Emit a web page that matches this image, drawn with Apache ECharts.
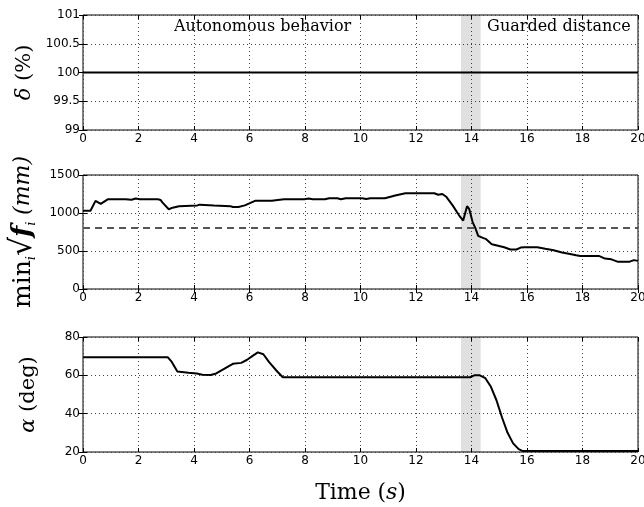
<!DOCTYPE html>
<html>
<head>
<meta charset="utf-8">
<script src="https://cdn.jsdelivr.net/npm/echarts@6/dist/echarts.min.js"></script>
<style>
    html, body { margin: 0; padding: 0; background: #fff; }
    #main { width: 644px; height: 507px; }
</style>
</head>
<body>
<div id="main"></div>
<script>
    // values
    var deltaTime = [0, 20];
    var deltaValue = [100, 100];

    var distTime = [0, 0.27, 0.34, 0.45, 0.64, 0.89, 1.53, 1.6, 1.75, 1.9, 2.05, 2.7, 2.8, 2.86, 3.09, 3.23, 3.46,
        4.12, 4.2, 4.72, 5.31, 5.4, 5.6, 5.83, 6.2, 6.8, 6.87, 7.24, 7.3, 7.39, 7.98, 8.13, 8.28, 8.72, 8.87,
        9.17, 9.29, 9.47, 10.06, 10.2, 10.36, 10.88, 11.25, 11.62, 12.66, 12.8, 12.95, 13.1, 13.32, 13.55,
        13.7, 13.84, 13.92, 14.04, 14.14, 14.24, 14.43, 14.51, 14.73, 14.96, 15.18, 15.4, 15.62, 15.77,
        15.92, 16.37, 16.44, 16.66, 16.96, 17.26, 17.55, 17.77, 17.92, 18.59, 18.81, 19.04, 19.26, 19.7,
        19.85, 20];
    var distValue = [1030, 1030, 1040, 1160, 1120, 1180, 1180, 1190, 1175, 1190, 1180, 1180, 1170, 1140, 1050,
        1070, 1090, 1100, 1110, 1100, 1090, 1080, 1080, 1100, 1160, 1160, 1180, 1180, 1190, 1180, 1180,
        1190, 1180, 1180, 1195, 1195, 1180, 1195, 1195, 1185, 1195, 1195, 1230, 1260, 1260, 1240, 1250,
        1210, 1100, 970, 900, 1090, 1050, 880, 800, 700, 670, 660, 590, 570, 550, 520, 520, 545, 550, 550,
        540, 530, 510, 480, 460, 445, 435, 435, 400, 390, 360, 360, 380, 370];
    var guardLevel = 800;

    var alphaTime = [0, 3.05, 3.2, 3.4, 3.8, 4.1, 4.3, 4.6, 4.8, 5.1, 5.4, 5.7, 5.9, 6.1, 6.3, 6.5, 6.7, 7.0,
        7.2, 13.95, 14.1, 14.3, 14.5, 14.7, 14.9, 15.1, 15.3, 15.5, 15.7, 15.85, 20];
    var alphaValue = [69.5, 69.5, 67, 62, 61.3, 61, 60.3, 60.2, 61, 63.5, 66, 66.5, 68, 70, 72, 71, 67, 62,
        59, 59, 60, 60, 58.5, 54, 47, 38, 30, 24.5, 21.5, 20.5, 20.5];

    var bandStart = 13.62, bandEnd = 14.33;
    var xTicks = {min: 0, max: 20, interval: 2};
    var yTicks = [
        {min: 99, max: 101, interval: 0.5},
        {min: 0, max: 1500, interval: 500},
        {min: 20, max: 80, interval: 20}
    ];

    function pairs(xs, ys) {
        return xs.map(function (x, i) { return [x, ys[i]]; });
    }

    var tickFont = {color: '#000', fontFamily: 'DejaVu Sans', fontSize: 12, formatter: function (v) { return String(v); }};
    var serif = 'DejaVu Serif';

    var grids = [
        {left: 83, right: 6, top: 15, height: 115},
        {left: 83, right: 6, top: 175, height: 114},
        {left: 83, right: 6, top: 337, height: 115}
    ].map(function (g) {
        g.show = true;
        g.borderColor = '#000';
        g.borderWidth = 1;
        g.outerBoundsMode = 'none';
        return g;
    });

    // main axes at even indices, mirrored tick-only axes at odd ones
    var xAxes = [], yAxes = [];
    for (var i = 0; i < 3; i++) {
        xAxes.push({
            type: 'value', gridIndex: i, min: xTicks.min, max: xTicks.max, interval: xTicks.interval,
            axisLine: {show: false},
            axisTick: {inside: true, length: 4, lineStyle: {color: '#000'}},
            axisLabel: Object.assign({margin: 3}, tickFont),
            splitLine: {lineStyle: {color: '#444', type: [1, 3], width: 1}}
        });
        xAxes.push({
            type: 'value', gridIndex: i, position: 'top', min: xTicks.min, max: xTicks.max, interval: xTicks.interval,
            axisLine: {show: false},
            axisTick: {inside: true, length: 4, lineStyle: {color: '#000'}},
            axisLabel: {show: false},
            splitLine: {show: false}
        });
        yAxes.push({
            type: 'value', gridIndex: i, min: yTicks[i].min, max: yTicks[i].max, interval: yTicks[i].interval,
            axisLine: {show: false},
            axisTick: {inside: true, length: 4, lineStyle: {color: '#000'}},
            axisLabel: Object.assign({margin: 3}, tickFont),
            splitLine: {lineStyle: {color: '#444', type: [1, 3], width: 1}},
            nameLocation: 'middle',
            nameRotate: 90
        });
        yAxes.push({
            type: 'value', gridIndex: i, position: 'right', min: yTicks[i].min, max: yTicks[i].max, interval: yTicks[i].interval,
            axisLine: {show: false},
            axisTick: {inside: true, length: 4, lineStyle: {color: '#000'}},
            axisLabel: {show: false},
            splitLine: {show: false}
        });
    }

    // axis names
    yAxes[0].name = '{g|δ}  {p|(%)}';
    yAxes[0].nameGap = 44;
    yAxes[0].nameTextStyle = {
        rich: {
            g: {fontFamily: serif, fontStyle: 'italic', fontSize: 21, color: '#000'},
            p: {fontFamily: serif, fontSize: 21, color: '#000'}
        }
    };
    yAxes[2].name = '{m|min}{s|i}{r|√}{f|f}{s|i}  {u|(mm)}';
    yAxes[2].nameGap = 40;
    yAxes[2].nameTextStyle = {
        rich: {
            m: {fontFamily: serif, fontSize: 25, color: '#000'},
            s: {fontFamily: serif, fontStyle: 'italic', fontSize: 13, color: '#000', verticalAlign: 'bottom'},
            r: {fontFamily: serif, fontSize: 30, color: '#000'},
            f: {fontFamily: serif, fontStyle: 'italic', fontWeight: 'bold', fontSize: 26, color: '#000'},
            u: {fontFamily: serif, fontStyle: 'italic', fontSize: 22, color: '#000'}
        }
    };
    yAxes[4].name = '{g|α}  {p|(deg)}';
    yAxes[4].nameGap = 44;
    yAxes[4].nameTextStyle = {
        rich: {
            g: {fontFamily: serif, fontStyle: 'italic', fontSize: 21, color: '#000'},
            p: {fontFamily: serif, fontSize: 21, color: '#000'}
        }
    };
    xAxes[4].name = '{t|Time}  {p|(}{s|s}{p|)}';
    xAxes[4].nameLocation = 'middle';
    xAxes[4].nameGap = 30;
    xAxes[4].nameTextStyle = {
        rich: {
            t: {fontFamily: serif, fontSize: 22, color: '#000'},
            p: {fontFamily: serif, fontSize: 22, color: '#000'},
            s: {fontFamily: serif, fontStyle: 'italic', fontSize: 22, color: '#000'}
        }
    };

    var band = {
        silent: true,
        itemStyle: {color: 'rgba(0,0,0,0.12)'},
        data: [[{xAxis: bandStart}, {xAxis: bandEnd}]]
    };

    var option = {
        animation: false,
        backgroundColor: '#fff',
        grid: grids,
        xAxis: xAxes,
        yAxis: yAxes,
        series: [
            {
                type: 'line', xAxisIndex: 0, yAxisIndex: 0, showSymbol: false,
                data: pairs(deltaTime, deltaValue),
                lineStyle: {color: '#000', width: 2},
                markArea: band,
                markPoint: {
                    symbol: 'circle', symbolSize: 0,
                    label: {
                        show: true, position: 'inside', formatter: '{b}',
                        fontFamily: serif, fontSize: 16, color: '#000'
                    },
                    data: [
                        {name: 'Autonomous behavior', coord: [6.47, 100.79]},
                        {name: 'Guarded distance', coord: [17.15, 100.79]}
                    ]
                }
            },
            {
                type: 'line', xAxisIndex: 2, yAxisIndex: 2, showSymbol: false,
                data: pairs(distTime, distValue),
                lineStyle: {color: '#000', width: 2},
                markArea: band,
                markLine: {
                    silent: true, symbol: 'none', label: {show: false},
                    lineStyle: {color: '#555', type: [7, 5], width: 2},
                    data: [{yAxis: guardLevel}]
                }
            },
            {
                type: 'line', xAxisIndex: 4, yAxisIndex: 4, showSymbol: false,
                data: pairs(alphaTime, alphaValue),
                lineStyle: {color: '#000', width: 2},
                markArea: band
            }
        ]
    };

    var myChart = echarts.init(document.getElementById('main'));
    myChart.setOption(option);
</script>
</body>
</html>
